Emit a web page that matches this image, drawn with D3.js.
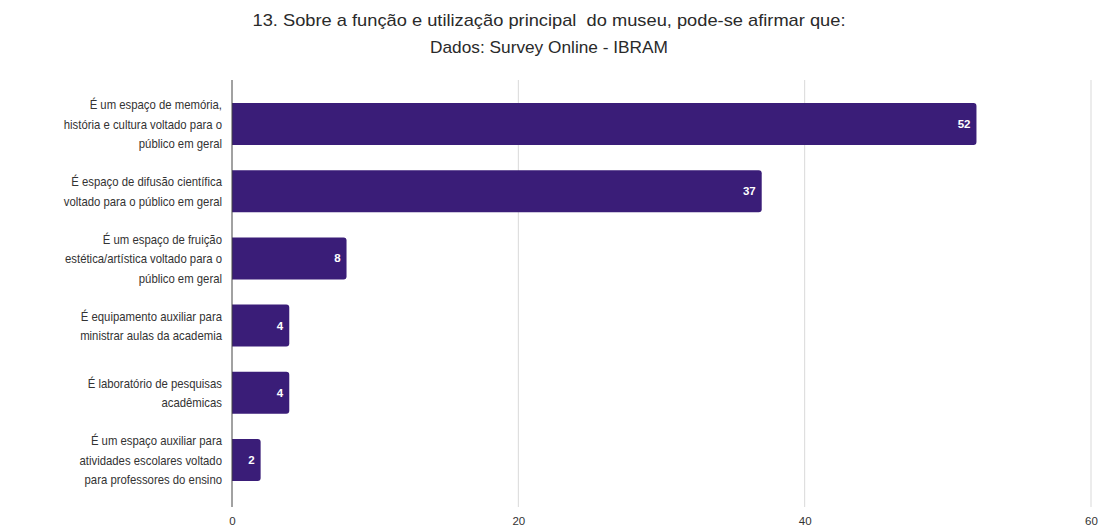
<!DOCTYPE html>
<html>
<head>
<meta charset="utf-8">
<script src="https://cdn.jsdelivr.net/npm/d3@7"></script>
<style>
  html, body { margin: 0; padding: 0; background: #fff; }
  svg { display: block; font-family: "Liberation Sans", Arial, sans-serif; }
</style>
</head>
<body>
<svg id="chart" width="1099" height="528"></svg>
<script>
// Responses per category (each category is split into display lines)
const categories = [
  ["É um espaço de memória,", "história e cultura voltado para o", "público em geral"],
  ["É espaço de difusão científica", "voltado para o público em geral"],
  ["É um espaço de fruição", "estética/artística voltado para o", "público em geral"],
  ["É equipamento auxiliar para", "ministrar aulas da academia"],
  ["É laboratório de pesquisas", "acadêmicas"],
  ["É um espaço auxiliar para", "atividades escolares voltado", "para professores do ensino"]
];
const values = [52, 37, 8, 4, 4, 2];
const xTicks = [0, 20, 40, 60];
const titleLines = [
  "13. Sobre a função e utilização principal  do museu, pode-se afirmar que:",
  "Dados: Survey Online - IBRAM"
];

const svg = d3.select("#chart");
const barColor = "#3a1d78";

// Scale the rendered text horizontally by a factor
function condense(sel, k) {
  sel.each(function() {
    const w = this.getComputedTextLength();
    d3.select(this).attr("textLength", w * k).attr("lengthAdjust", "spacingAndGlyphs");
  });
}

const x = d3.scaleLinear().domain([0, 60]).range([232, 1091]);
const y = d3.scaleBand()
  .domain(d3.range(categories.length))
  .range([90.5, 493.5])
  .paddingInner(0.375)
  .paddingOuter(0.1875);

// Title block
const titleWidths = [593, 238];
svg.append("g").selectAll("text")
  .data(titleLines)
  .join("text")
  .attr("x", 549)
  .attr("y", (d, i) => 26 + i * 27)
  .attr("text-anchor", "middle")
  .attr("font-size", 17)
  .attr("fill", "#2a2a2a")
  .style("white-space", "pre")
  .attr("xml:space", "preserve")
  .attr("textLength", (d, i) => titleWidths[i])
  .attr("lengthAdjust", "spacingAndGlyphs")
  .text(d => d);

// Vertical grid lines
svg.append("g").selectAll("line")
  .data(xTicks.filter(t => t > 0))
  .join("line")
  .attr("x1", d => x(d)).attr("x2", d => x(d))
  .attr("y1", 80).attr("y2", 507)
  .attr("stroke", "#d9d9d9")
  .attr("stroke-width", 1);

// Bars with rounded right end
const barPath = (v, i) => {
  const x0 = x(0), x1 = x(v), y0 = y(i), h = y.bandwidth(), r = 3;
  return `M${x0},${y0}H${x1 - r}Q${x1},${y0} ${x1},${y0 + r}V${y0 + h - r}Q${x1},${y0 + h} ${x1 - r},${y0 + h}H${x0}Z`;
};
svg.append("g").selectAll("path")
  .data(values)
  .join("path")
  .attr("d", (d, i) => barPath(d, i))
  .attr("fill", barColor);

// Value labels inside bar ends
svg.append("g").selectAll("text")
  .data(values)
  .join("text")
  .attr("x", d => x(d) - 6)
  .attr("y", (d, i) => y(i) + y.bandwidth() / 2)
  .attr("dy", "0.35em")
  .attr("text-anchor", "end")
  .attr("font-size", 11.5)
  .attr("font-weight", "bold")
  .attr("fill", "#fff")
  .text(d => d);

// Zero axis line
svg.append("line")
  .attr("x1", x(0)).attr("x2", x(0))
  .attr("y1", 80).attr("y2", 507)
  .attr("stroke", "#444")
  .attr("stroke-width", 1);

// Category labels
const lineH = 19.5;
const labelLines = svg.append("g").selectAll("g")
  .data(categories)
  .join("g")
  .each(function(lines, i) {
    const cy = y(i) + y.bandwidth() / 2;
    const start = cy - (lines.length - 1) * lineH / 2;
    d3.select(this).selectAll("text")
      .data(lines)
      .join("text")
      .attr("x", 222)
      .attr("y", (d, j) => start + j * lineH)
      .attr("dy", "0.35em")
      .attr("text-anchor", "end")
      .attr("font-size", 13.5)
      .attr("fill", "#333")
      .text(d => d);
  })
  .selectAll("text");
condense(labelLines, 0.84);

// X axis tick labels
const xAxis = d3.axisBottom(x).tickValues(xTicks).tickSize(0).tickPadding(0);
const gx = svg.append("g").attr("transform", "translate(0,517)").call(xAxis);
gx.select(".domain").remove();
gx.selectAll("text")
  .attr("font-size", 11.5)
  .attr("font-family", "Liberation Sans, Arial, sans-serif")
  .attr("fill", "#333");
</script>
</body>
</html>
